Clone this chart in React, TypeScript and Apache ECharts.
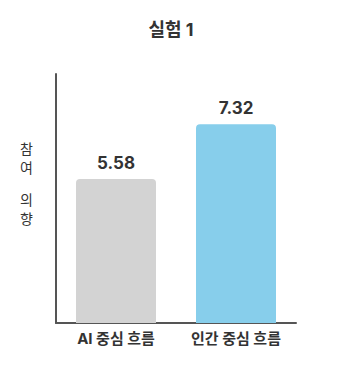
import React, { useEffect, useRef } from "react";
import * as echarts from "echarts";

const categories = ["AI 중심 흐름", "인간 중심 흐름"];
const values = [5.58, 7.32];
const barColors = ["#d3d3d3", "#87ceeb"];
const titleText = "실험 1";

export default function App() {
  const ref = useRef<HTMLDivElement>(null);
  useEffect(() => {
    if (!ref.current) return;
    const chart = echarts.init(ref.current, null, { renderer: "svg" });
    const font = "Inter, 'Noto Sans CJK KR', sans-serif";
    chart.setOption({
      animation: false,
      textStyle: { fontFamily: font },
      title: {
        text: titleText,
        left: "center",
        top: 20,
        padding: [0, 0, 0, 9],
        textStyle: { fontSize: 18, fontWeight: "bold", color: "#333", fontFamily: font },
      },
      grid: { left: 56, right: 46, top: 74, bottom: 47 },
      xAxis: {
        type: "category",
        data: categories,
        axisLine: { lineStyle: { color: "#555", width: 2 } },
        axisTick: { show: false },
        axisLabel: { fontSize: 15, fontWeight: "bold", color: "#333", margin: 8, fontFamily: font },
      },
      yAxis: {
        type: "value",
        min: 1,
        max: 8.92,
        splitLine: { show: false },
        axisLabel: { show: false },
        axisTick: { show: false },
        axisLine: { show: true, lineStyle: { color: "#555", width: 2 } },
        name: "참\n여\n{s| }\n의\n향",
        nameLocation: "middle",
        nameRotate: 0,
        nameGap: 23,
        nameTextStyle: {
          fontSize: 14,
          color: "#333",
          lineHeight: 19,
          fontFamily: font,
          padding: [0, 0, 31, 0],
          rich: { s: { lineHeight: 13, fontSize: 10 } },
        },
      },
      series: [
        {
          type: "bar",
          barWidth: 80,
          data: values.map((v, i) => ({ value: v, itemStyle: { color: barColors[i] } })),
          itemStyle: { borderRadius: [4, 4, 0, 0] },
          label: {
            show: true,
            position: "top",
            distance: 8,
            fontSize: 17,
            fontWeight: "bold",
            color: "#333",
            fontFamily: font,
            formatter: (p: any) => p.value.toFixed(2),
          },
        },
      ],
    });
    return () => chart.dispose();
  }, []);
  return (
    <div
      ref={ref}
      style={{ position: "fixed", left: 0, top: 0, width: 342, height: 370, background: "#fff" }}
    />
  );
}
